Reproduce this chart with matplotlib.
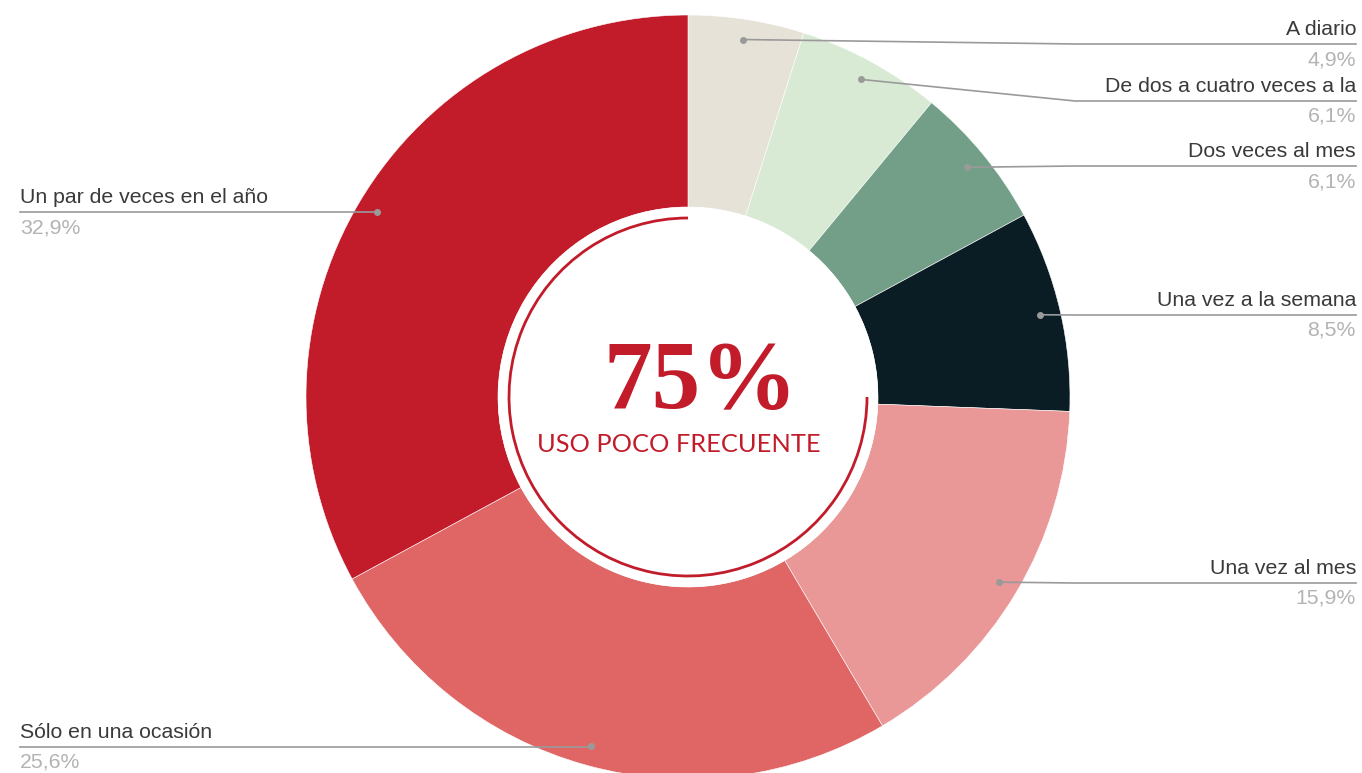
import numpy as np
import matplotlib.pyplot as plt
from matplotlib.patches import Circle, Arc

# Frecuencia de uso (porcentajes), en el sentido de las agujas del reloj desde arriba
categorias = ['A diario', 'De dos a cuatro veces a la', 'Dos veces al mes',
              'Una vez a la semana', 'Una vez al mes', 'Sólo en una ocasión',
              'Un par de veces en el año']
valores = [4.9, 6.1, 6.1, 8.5, 15.9, 25.6, 32.9]
etiquetas_pct = ['4,9%', '6,1%', '6,1%', '8,5%', '15,9%', '25,6%', '32,9%']
colores = ['#E6E2D7', '#D8EAD3', '#739E88', '#0A1C24', '#E99797', '#E06666', '#C21C2B']

total_centro = '75%'
texto_centro = 'USO POCO FRECUENTE'

W, H = 1362, 773
fig = plt.figure(figsize=(W / 100, H / 100), dpi=100)
ax = fig.add_axes([0, 0, 1, 1])

cx, cy = 688, H - 397
R = 382
r_hueco = 190

wedges, _ = ax.pie(valores, colors=colores, startangle=90, counterclock=False,
                   radius=R, center=(cx, cy),
                   wedgeprops=dict(width=R - r_hueco, edgecolor='white', linewidth=0.4))

# circulo blanco central con arco rojo
ax.add_patch(Circle((cx, cy), r_hueco, facecolor='white', edgecolor='none', zorder=3))
ax.add_patch(Arc((cx, cy), 2 * 179, 2 * 179, theta1=90, theta2=360,
                 color='#C21C2B', lw=2, zorder=4))

ax.text(cx + 13, H - 408, total_centro, ha='center', va='baseline',
        fontsize=70, fontweight='bold', family='Liberation Serif', color='#C21C2B', zorder=5)
ax.text(cx - 9, H - 452, texto_centro, ha='center', va='baseline',
        fontsize=18.3, family='Lato', color='#C21C2B', zorder=5)

# etiquetas con lineas guia
lado_derecho = [True, True, True, True, True, False, False]
y_linea = [44, 101, 166, 315, 583, 747, 212]   # posicion vertical (px) de cada subrayado
x_der, x_der_ini = 1356, 1075
x_izq = 20
fs = 15.3

for w, cat, pct, der, yl in zip(wedges, categorias, etiquetas_pct, lado_derecho, y_linea):
    ang = np.deg2rad((w.theta1 + w.theta2) / 2)
    px = cx + 0.947 * R * np.cos(ang)
    py = cy + 0.947 * R * np.sin(ang)
    yl = H - yl
    if der:
        ax.plot([px, x_der_ini, x_der], [py, yl, yl], color='#9A9A9A', lw=1.2, zorder=6)
        xt, ha = x_der, 'right'
    else:
        ax.plot([px, x_izq], [yl, yl], color='#9A9A9A', lw=1.2, zorder=6)
        xt, ha = x_izq, 'left'
    ax.text(xt, yl + 5, cat, ha=ha, va='bottom', fontsize=fs,
            family='Liberation Sans', color='#3A3A3A')
    ax.text(xt, yl - 6, pct, ha=ha, va='top', fontsize=fs,
            family='Liberation Sans', color='#B3B3B3')
    ax.plot(px, py, 'o', color='#9A9A9A', ms=4, zorder=7)

ax.set_xlim(0, W)
ax.set_ylim(0, H)
ax.set_aspect('equal')
ax.axis('off')

fig.savefig('out.png', dpi=100, facecolor='white')
